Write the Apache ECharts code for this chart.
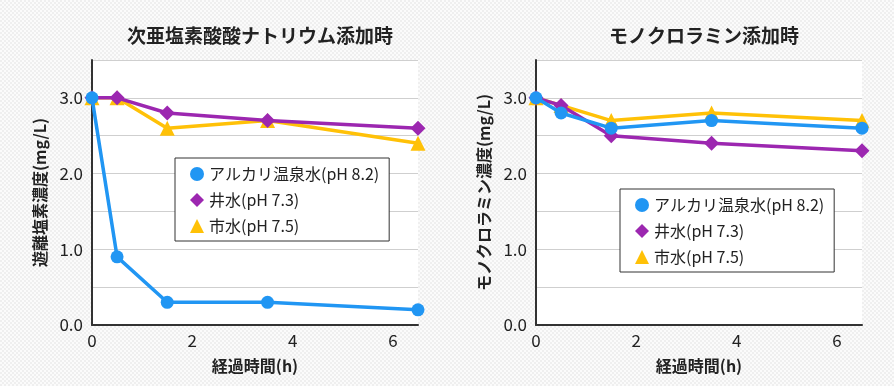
<!DOCTYPE html>
<html>
<head>
<meta charset="utf-8">
<script src="https://cdn.jsdelivr.net/npm/echarts@6/dist/echarts.min.js"></script>
<style>
html,body{margin:0;padding:0;}
body{width:894px;height:386px;background-color:#f7f7f7;
background-image:conic-gradient(#fbfbfb 25%, #efefef 0 50%, #fbfbfb 0 75%, #efefef 0);
background-size:4px 4px;}
#chart{width:894px;height:386px;}
</style>
</head>
<body>
<div id="chart"></div>
<script>
// Data
const hours = [0, 0.5, 1.5, 3.5, 6.5];
const seriesNames = ['アルカリ温泉水(pH 8.2)', '井水(pH 7.3)', '市水(pH 7.5)'];
const titles = ['次亜塩素酸酸ナトリウム添加時', 'モノクロラミン添加時'];
const yNames = ['遊離塩素濃度(mg/L)', 'モノクロラミン濃度(mg/L)'];
const xName = '経過時間(h)';
// left chart (sodium hypochlorite)
const naAlkaline = [3.0, 0.9, 0.3, 0.3, 0.2];
const naWell = [3.0, 3.0, 2.8, 2.7, 2.6];
const naCity = [3.0, 3.0, 2.6, 2.7, 2.4];
// right chart (monochloramine)
const mcAlkaline = [3.0, 2.8, 2.6, 2.7, 2.6];
const mcWell = [3.0, 2.9, 2.5, 2.4, 2.3];
const mcCity = [3.0, 2.9, 2.7, 2.8, 2.7];

const colors = ['#2196f3', '#9c27b0', '#ffc107'];
const symbols = ['circle', 'diamond', 'triangle'];
const symbolSizes = [13, 15, 15];
const zs = [4, 3, 2];
const FONT = '"Noto Sans CJK JP", "Noto Sans", sans-serif';

function pair(xs, ys){ return xs.map((x,i)=>[x, ys[i]]); }

const gridLefts = [92, 536];
const chartData = [[naAlkaline, naWell, naCity], [mcAlkaline, mcWell, mcCity]];
const legendPos = [[175, 158], [620, 189]];

const grids = [], xAxes = [], yAxes = [], series = [], titleArr = [], legends = [];
gridLefts.forEach((gl, gi) => {
  grids.push({left: gl, top: 60, width: 326, height: 265, show: true, backgroundColor: '#ffffff', borderWidth: 0});
  titleArr.push({text: titles[gi], left: gl + 163, top: 21, textAlign: 'center',
    textStyle: {fontFamily: FONT, fontSize: 19, fontWeight: 'bold', color: '#222'}});
  xAxes.push({type: 'value', gridIndex: gi, min: 0, max: 6.5, interval: 2,
    name: xName, nameLocation: 'middle', nameGap: 33,
    nameTextStyle: {fontFamily: FONT, fontSize: 16, fontWeight: 'bold', color: '#222'},
    axisLine: {show: true, onZero: false, lineStyle: {color: '#333', width: 2}},
    axisTick: {show: false}, splitLine: {show: false},
    axisLabel: {showMaxLabel: false, fontFamily: FONT, fontSize: 17, color: '#222', margin: 7}});
  yAxes.push({type: 'value', gridIndex: gi, min: 0, max: 3.5, interval: 0.5,
    name: yNames[gi], nameLocation: 'middle', nameGap: 44, nameRotate: 90,
    nameTextStyle: {fontFamily: FONT, fontSize: 16, fontWeight: 'bold', color: '#222'},
    axisLine: {show: true, lineStyle: {color: '#333', width: 2}},
    axisTick: {show: false},
    splitLine: {show: true, lineStyle: {color: '#cfcfcf', width: 1}},
    axisLabel: {fontFamily: FONT, fontSize: 17, color: '#222', margin: 9,
      formatter: v => (Math.abs(v - Math.round(v)) < 1e-9 ? v.toFixed(1) : '')}});
  chartData[gi].forEach((vals, si) => {
    series.push({name: seriesNames[si], type: 'line', xAxisIndex: gi, yAxisIndex: gi,
      data: pair(hours, vals), symbol: symbols[si], symbolSize: symbolSizes[si],
      z: zs[si], color: colors[si],
      lineStyle: {width: 3.5, color: colors[si]}, itemStyle: {color: colors[si]}});
  });
  legends.push({orient: 'vertical', left: legendPos[gi][0], top: legendPos[gi][1],
    data: seriesNames.map((n, i) => ({name: n, icon: symbols[i]})),
    backgroundColor: '#ffffff', borderColor: '#333', borderWidth: 1,
    padding: [7, 10, 6, 15], itemWidth: 14, itemHeight: 14, itemGap: 8,
    selectedMode: false,
    textStyle: {fontFamily: FONT, fontSize: 16, color: '#222', lineHeight: 18}});
});

const chart = echarts.init(document.getElementById('chart'), null, {renderer: 'canvas'});
chart.setOption({
  animation: false,
  backgroundColor: 'transparent',
  title: titleArr, grid: grids, xAxis: xAxes, yAxis: yAxes, legend: legends, series: series
});
</script>
</body>
</html>
